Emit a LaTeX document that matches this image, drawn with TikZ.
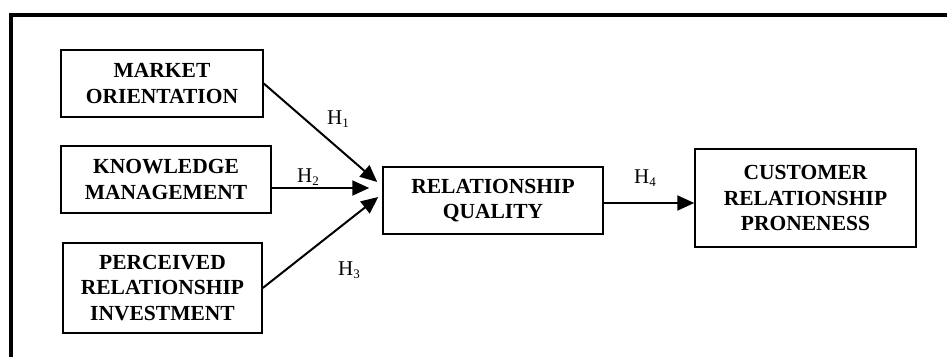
\documentclass[tikz,border=0pt]{standalone}
\usepackage{fontspec}
\setmainfont{Liberation Serif}
\usetikzlibrary{arrows.meta,calc}
\newcommand{\hsub}[1]{\raisebox{-3pt}{\fontsize{13}{13}\selectfont #1}}
\begin{document}
\begin{tikzpicture}[x=1pt,y=-1pt,
  boxnode/.style={draw,line width=1.5pt,align=center,inner sep=0pt,
    font=\fontsize{21.5}{25.5}\selectfont\bfseries},
  hlabel/.style={font=\fontsize{21}{24}\selectfont,inner sep=0pt},
  conn/.style={line width=2pt,-{Triangle[length=17pt,width=15pt]}}]
\useasboundingbox (0,0) rectangle (947,356);
\clip (0,0) rectangle (947,356);
\draw[line width=4pt] (11,400) -- (11,15) -- (1000,15);
\node[boxnode,minimum width=202pt,minimum height=67pt] (mo) at (162,83.5) {MARKET\\ORIENTATION};
\node[boxnode,minimum width=210pt,minimum height=67pt] (km) at (166,179.5) {KNOWLEDGE\\MANAGEMENT};
\node[boxnode,minimum width=199pt,minimum height=90pt] (pri) at (162.5,288) {PERCEIVED\\RELATIONSHIP\\INVESTMENT};
\node[boxnode,minimum width=220pt,minimum height=67pt] (rq) at (493,200.5) {RELATIONSHIP\\QUALITY};
\node[boxnode,minimum width=221pt,minimum height=98pt] (crp) at (805.5,198) {CUSTOMER\\RELATIONSHIP\\PRONENESS};
\coordinate (s2) at ($(km.east)+(0,8.5)$);
\coordinate (s4) at ($(rq.east)+(0,2.5)$);
\draw[conn] (mo.east) -- ($(rq.west)+(-5,-18.5)$);
\draw[conn] (s2) -- ($(rq.west)+(-13,-12.5)$);
\draw[conn] (pri.east) -- ($(rq.west)+(-4,-3.5)$);
\draw[conn] (s4) -- (s4 -| crp.west);
\node[hlabel] (h1) at (338,119) {H\hsub{1}};
\node[hlabel] (h2) at (308,177) {H\hsub{2}};
\node[hlabel] (h3) at (349,270) {H\hsub{3}};
\node[hlabel] (h4) at (645,178) {H\hsub{4}};
\end{tikzpicture}
\end{document}
